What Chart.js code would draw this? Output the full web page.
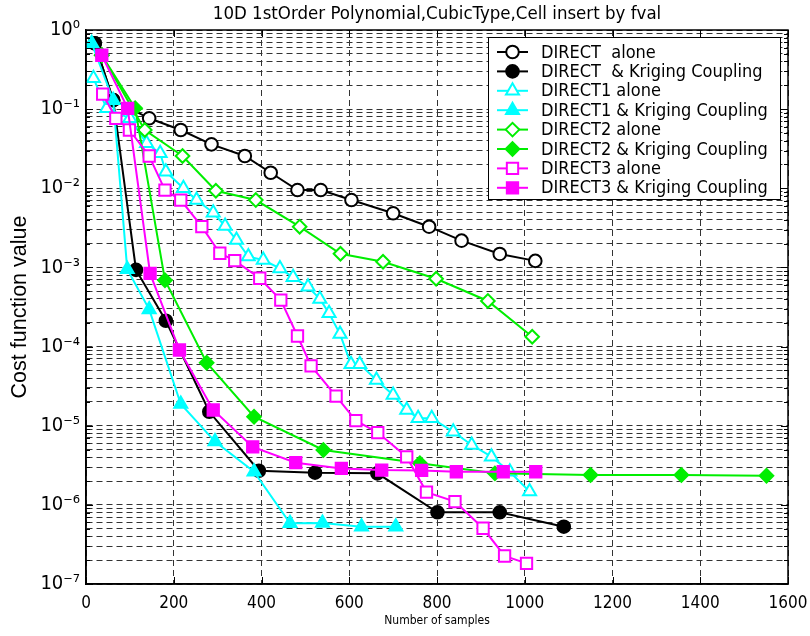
<!DOCTYPE html>
<html>
<head>
<meta charset="utf-8">
<script src="https://cdn.jsdelivr.net/npm/chart.js@4/dist/chart.umd.min.js"></script>
<style>
  html, body { margin: 0; padding: 0; background: #fff; }
  #chart { display: block; }
</style>
</head>
<body>
<canvas id="chart" width="810" height="636"></canvas>
<script>
// values
const xTicks = [0, 200, 400, 600, 800, 1000, 1200, 1400, 1600];
const yDecades = [-7, -6, -5, -4, -3, -2, -1, 0];

const directAloneX = [20, 62, 144, 216, 286, 362, 421, 482, 535, 605, 700, 782, 856, 943, 1024];
const directAloneY = [0.68, 0.13, 0.0766, 0.0545, 0.0359, 0.0256, 0.0157, 0.0095, 0.0095, 0.0071, 0.00483, 0.00327, 0.00218, 0.00148, 0.00121];

const directKrigX = [20, 62, 114, 182, 281, 394, 522, 664, 801, 943, 1089];
const directKrigY = [0.68, 0.13, 9.3e-4, 2.12e-4, 1.5e-5, 2.7e-6, 2.55e-6, 2.5e-6, 8.05e-7, 8.05e-7, 5.3e-7];

const direct1AloneX = [17, 47, 100, 138, 169, 182, 222, 252, 290, 317, 343, 370, 404, 442, 472, 506, 533, 554, 579, 604, 624, 662, 700, 731, 757, 788, 837, 879, 924, 966, 1011];
const direct1AloneY = [0.245, 0.1025, 0.0766, 0.037, 0.0277, 0.0162, 0.0100, 0.0071, 0.0049, 0.00334, 0.00222, 0.00137, 0.00124, 0.00097, 0.00075, 0.00057, 0.00040, 0.000263, 1.44e-4, 6.0e-5, 6.0e-5, 3.78e-5, 2.44e-5, 1.58e-5, 1.24e-5, 1.24e-5, 8.4e-6, 5.7e-6, 4.06e-6, 2.62e-6, 1.47e-6];

const direct1KrigX = [13, 62, 94, 144, 216, 294, 383, 465, 539, 628, 706];
const direct1KrigY = [0.68, 0.13, 9.5e-4, 2.95e-4, 1.88e-5, 6.3e-6, 2.62e-6, 5.85e-7, 5.9e-7, 5.3e-7, 5.3e-7];

const direct2AloneX = [36, 134, 220, 296, 387, 487, 580, 677, 798, 916, 1017];
const direct2AloneY = [0.48, 0.0545, 0.0256, 0.0093, 0.0071, 0.00327, 0.00149, 0.00118, 7.2e-4, 3.77e-4, 1.33e-4];

const direct2KrigX = [36, 112, 180, 275, 383, 541, 761, 932, 1150, 1357, 1551];
const direct2KrigY = [0.48, 0.103, 6.9e-4, 6.25e-5, 1.3e-5, 4.93e-6, 3.35e-6, 2.5e-6, 2.38e-6, 2.38e-6, 2.33e-6];

const direct3AloneX = [38, 68, 99, 144, 180, 216, 264, 305, 339, 396, 444, 482, 513, 570, 615, 665, 731, 776, 841, 905, 954, 1004];
const direct3AloneY = [0.155, 0.0766, 0.0545, 0.0256, 0.0095, 0.0071, 0.00327, 0.00151, 0.00122, 7.3e-4, 3.87e-4, 1.36e-4, 5.7e-5, 2.37e-5, 1.16e-5, 8.2e-6, 4.03e-6, 1.45e-6, 1.10e-6, 5.06e-7, 2.26e-7, 1.82e-7];

const direct3KrigX = [36, 95, 146, 213, 290, 380, 478, 582, 674, 765, 844, 951, 1025];
const direct3KrigY = [0.48, 0.1025, 8.4e-4, 9.05e-5, 1.58e-5, 5.4e-6, 3.41e-6, 2.89e-6, 2.75e-6, 2.72e-6, 2.62e-6, 2.62e-6, 2.62e-6];

const NARROW = "'Liberation Sans Narrow', 'DejaVu Sans Condensed', sans-serif";
const SUPS = { '-': '\u207B', '0': '\u2070', '1': '\u00B9', '2': '\u00B2', '3': '\u00B3', '4': '\u2074', '5': '\u2075', '6': '\u2076', '7': '\u2077' };

function pts(xs, ys) {
    return xs.map((x, i) => ({ x: x, y: ys[i] }));
}

function series(label, xs, ys, color, style, filled, radius, order) {
    return {
        label: label,
        data: pts(xs, ys),
        borderColor: color,
        backgroundColor: filled ? color : '#ffffff',
        pointStyle: style,
        pointRadius: radius,
        pointBorderWidth: 2,
        pointBorderColor: color,
        pointBackgroundColor: filled ? color : '#ffffff',
        borderWidth: 2,
        tension: 0,
        order: order
    };
}

const datasets = [
    series('DIRECT  alone', directAloneX, directAloneY, '#000000', 'circle', false, 6.3, 8),
    series('DIRECT  & Kriging Coupling', directKrigX, directKrigY, '#000000', 'circle', true, 6.3, 7),
    series('DIRECT1 alone', direct1AloneX, direct1AloneY, '#00ffff', 'triangle', false, 7.5, 6),
    series('DIRECT1 & Kriging Coupling', direct1KrigX, direct1KrigY, '#00ffff', 'triangle', true, 7.5, 5),
    series('DIRECT2 alone', direct2AloneX, direct2AloneY, '#00ee00', 'rectRot', false, 6.8, 4),
    series('DIRECT2 & Kriging Coupling', direct2KrigX, direct2KrigY, '#00ee00', 'rectRot', true, 6.8, 3),
    series('DIRECT3 alone', direct3AloneX, direct3AloneY, '#ff00ff', 'rect', false, 8, 2),
    series('DIRECT3 & Kriging Coupling', direct3KrigX, direct3KrigY, '#ff00ff', 'rect', true, 8, 1)
];

// all log ticks: 1..9 x 10^n
const yTickValues = [];
yDecades.forEach(d => {
    for (let k = 1; k <= 9; k++) {
        if (d === 0 && k > 1) break;
        yTickValues.push(k * Math.pow(10, d));
    }
});

function isDecade(v) {
    const l = Math.log10(v);
    return Math.abs(l - Math.round(l)) < 1e-6;
}

// frame, inner tick marks, title and legend
const decorPlugin = {
    id: 'decor',
    afterDraw: function(chart) {
        const ctx = chart.ctx;
        const area = chart.chartArea;
        const xs = chart.scales.x;
        const ys = chart.scales.y;
        ctx.save();

        // inner ticks
        ctx.strokeStyle = '#000';
        ctx.lineWidth = 1;
        ctx.beginPath();
        yTickValues.forEach(v => {
            const y = Math.round(ys.getPixelForValue(v)) + 0.5;
            const len = isDecade(v) ? 7 : 4;
            ctx.moveTo(area.left, y); ctx.lineTo(area.left + len, y);
            ctx.moveTo(area.right, y); ctx.lineTo(area.right - len, y);
        });
        xTicks.forEach(v => {
            const x = Math.round(xs.getPixelForValue(v)) + 0.5;
            ctx.moveTo(x, area.bottom); ctx.lineTo(x, area.bottom - 7);
            ctx.moveTo(x, area.top); ctx.lineTo(x, area.top + 7);
        });
        ctx.stroke();

        // frame
        ctx.lineWidth = 1.5;
        ctx.strokeRect(area.left, area.top, area.right - area.left, area.bottom - area.top);

        // title
        ctx.fillStyle = '#000';
        ctx.font = '18.5px ' + NARROW;
        ctx.textAlign = 'center';
        ctx.textBaseline = 'middle';
        ctx.fillText('10D 1stOrder Polynomial,CubicType,Cell insert by fval', (area.left + area.right) / 2, 14);

        // legend box
        const bx = 488, by = 37, bw = 292, bh = 162;
        ctx.fillStyle = '#fff';
        ctx.fillRect(bx, by, bw, bh);
        ctx.lineWidth = 1;
        ctx.strokeStyle = '#000';
        ctx.strokeRect(bx + 0.5, by + 0.5, bw, bh);

        datasets.forEach((ds, i) => {
            const y = 52 + i * 19.4;
            ctx.strokeStyle = ds.borderColor;
            ctx.lineWidth = 2;
            ctx.beginPath();
            ctx.moveTo(497, y);
            ctx.lineTo(528, y);
            ctx.stroke();
            ctx.fillStyle = ds.pointBackgroundColor;
            ctx.strokeStyle = ds.pointBorderColor;
            Chart.helpers.drawPoint(ctx, {
                pointStyle: ds.pointStyle,
                radius: ds.pointRadius,
                borderWidth: 2,
                rotation: 0
            }, 512.5, y);
            ctx.fillStyle = '#000';
            ctx.font = '18px ' + NARROW;
            ctx.textAlign = 'left';
            ctx.textBaseline = 'middle';
            ctx.fillText(ds.label, 541, y + 1);
        });
        ctx.restore();
    }
};

const ctx = document.getElementById('chart').getContext('2d');
new Chart(ctx, {
    type: 'line',
    data: { datasets: datasets },
    options: {
        responsive: false,
        devicePixelRatio: 1,
        animation: false,
        layout: { padding: { left: 0, right: 22, top: 30, bottom: 0 } },
        plugins: {
            legend: { display: false },
            title: { display: false },
            tooltip: { enabled: false }
        },
        scales: {
            x: {
                type: 'linear',
                min: 0,
                max: 1600,
                afterFit: function(scale) {
                    scale.height = 52;
                    scale.paddingLeft = 0;
                    scale.paddingRight = 0;
                },
                afterBuildTicks: function(scale) {
                    scale.ticks = xTicks.map(v => ({ value: v }));
                },
                grid: { color: '#333', lineWidth: 1, drawTicks: false },
                border: { display: true, color: '#000', width: 1.5, dash: [6, 4] },
                ticks: {
                    padding: 9,
                    color: '#000',
                    font: { family: NARROW, size: 17 },
                    maxRotation: 0,
                    callback: function(value) { return String(value); }
                },
                title: {
                    display: true,
                    text: 'Number of samples',
                    color: '#000',
                    font: { family: NARROW, size: 12 },
                    padding: { top: 0, bottom: 8 }
                }
            },
            y: {
                type: 'logarithmic',
                min: 1e-7,
                max: 1,
                afterFit: function(scale) {
                    scale.width = 86;
                    scale.paddingTop = 0;
                    scale.paddingBottom = 0;
                },
                afterBuildTicks: function(scale) {
                    scale.ticks = yTickValues.map(v => ({ value: v, major: isDecade(v) }));
                },
                grid: { color: '#333', lineWidth: 1, drawTicks: false },
                border: { display: true, color: '#000', width: 1.5, dash: [6, 4] },
                ticks: {
                    autoSkip: false,
                    padding: 6,
                    color: '#000',
                    font: { family: NARROW, size: 20 },
                    callback: function(value) {
                        if (!isDecade(value)) return '';
                        const e = String(Math.round(Math.log10(value)));
                        return '10' + e.split('').map(c => SUPS[c]).join('');
                    }
                },
                title: {
                    display: true,
                    text: 'Cost function value',
                    color: '#000',
                    font: { family: "'Liberation Sans', Arial, sans-serif", size: 21.5 },
                    padding: { top: 7, bottom: 0 }
                }
            }
        }
    },
    plugins: [decorPlugin]
});
</script>
</body>
</html>
